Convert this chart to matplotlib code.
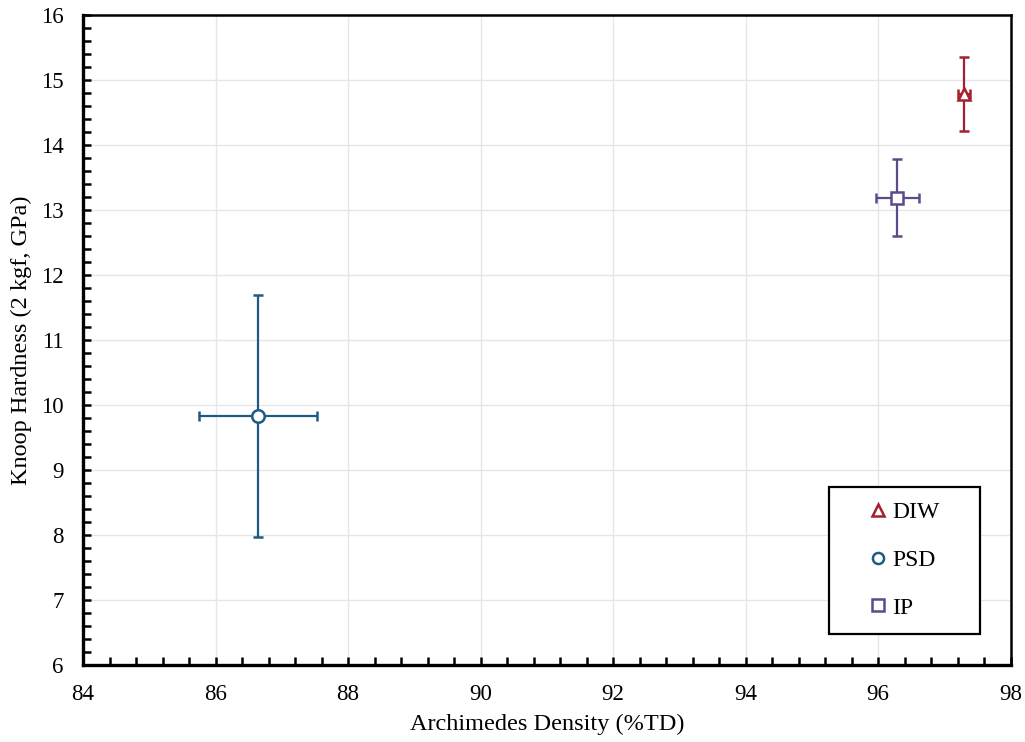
import matplotlib as mpl
import matplotlib.pyplot as plt
from matplotlib.lines import Line2D
from matplotlib.patches import Rectangle
from matplotlib.ticker import MultipleLocator

# values
labels = ["DIW", "PSD", "IP"]
density = [97.29, 86.64, 96.29]
density_err = [0.09, 0.89, 0.32]
hardness = [14.78, 9.83, 13.19]
hardness_err = [0.57, 1.86, 0.59]

COLORS = {"DIW": "#A3202F", "PSD": "#1D5A84", "IP": "#5C4A8C"}
MARKERS = {"DIW": "^", "PSD": "o", "IP": "s"}

mpl.rcParams.update({
    "font.family": ["Liberation Serif", "DejaVu Serif"],
    "font.size": 16,
})

fig = plt.figure(figsize=(10.25, 7.42), dpi=100)
ax = fig.add_axes([0.081, 0.1038, 0.905, 0.876])

for name, x, xe, y, ye in zip(labels, density, density_err, hardness, hardness_err):
    ax.errorbar(x, y, xerr=xe, yerr=ye, fmt=MARKERS[name], color=COLORS[name],
                mfc="white", mec=COLORS[name], mew=1.8, ms=9 if name != "DIW" else 8,
                elinewidth=1.6, capsize=3.5, capthick=1.6, zorder=3)

ax.set_xlim(84, 98)
ax.set_ylim(6, 16)
ax.xaxis.set_major_locator(MultipleLocator(2))
ax.xaxis.set_minor_locator(MultipleLocator(0.4))
ax.yaxis.set_major_locator(MultipleLocator(1))
ax.yaxis.set_minor_locator(MultipleLocator(0.2))
ax.tick_params(which="both", direction="in", width=1.8, top=False, right=False)
ax.tick_params(which="major", length=6, labelsize=16.5, pad=14)
ax.tick_params(which="minor", length=6)
ax.grid(True, which="major", color="#e6e6e6", linewidth=1.0, zorder=0)
ax.set_axisbelow(True)
for side in ["left", "bottom"]:
    ax.spines[side].set_linewidth(2.4)
for side in ["top", "right"]:
    ax.spines[side].set_linewidth(1.8)

ax.set_xlabel("Archimedes Density (%TD)", fontsize=17.5, labelpad=6)
ax.set_ylabel("Knoop Hardness (2 kgf, GPa)", fontsize=17.5, labelpad=6)

# legend: entries without frame, box drawn separately to match the reference padding
handles = [Line2D([], [], linestyle="none", marker=MARKERS[n], mfc="white",
                  mec=COLORS[n], mew=1.8, ms=8) for n in labels]
leg = ax.legend(handles, labels, loc="center left", bbox_to_anchor=(0.844, 0.1615),
                frameon=False, fontsize=17, labelspacing=1.12,
                handletextpad=0.1, handlelength=1.0, borderpad=0,
                borderaxespad=0)
ax.add_patch(Rectangle((0.804, 0.048), 0.163, 0.226, transform=ax.transAxes,
                       facecolor="white", edgecolor="black", linewidth=1.6, zorder=4))
leg.set_zorder(5)

fig.savefig("out.png", dpi=100)
